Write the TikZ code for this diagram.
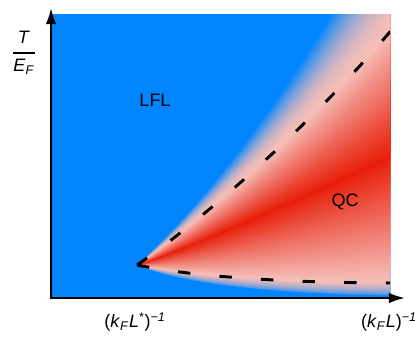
\documentclass[tikz,border=0pt]{standalone}
\usepackage{fontspec}
\setmainfont{Liberation Sans}
\usepackage{tikz}
\usetikzlibrary{arrows.meta,calc}
\definecolor{fanblue}{HTML}{0085FF}
\definecolor{fanpink}{HTML}{F5BEB8}
\definecolor{fanred}{HTML}{E81E0A}
\tikzset{lbl/.style={font=\fontsize{12.8}{15}\selectfont,inner sep=0pt},
  dashline/.style={line width=2.1pt,dash pattern=on 8.8pt off 20.8pt},
  axisline/.style={line width=1.6pt,{Latex[length=11.5pt,width=7.5pt]}-{Latex[length=11.5pt,width=7.5pt]}}}

\begin{document}
\begin{tikzpicture}[x=0.025cm,y=0.025cm]
\useasboundingbox (0,0) rectangle (415,337);
\coordinate (O) at (51,39);
\coordinate (Ytip) at (51,329);
\coordinate (Xtip) at (405,39);
\coordinate (A) at (137,72);
% key curves of the fan: a, b control points, e end point
\coordinate (K0a) at (190,50);  \coordinate (K0b) at (290,42);  \coordinate (K0e) at (400,41);
\coordinate (K1a) at (200,59);  \coordinate (K1b) at (300,54);  \coordinate (K1e) at (400,54);
\coordinate (K2a) at (200,92);  \coordinate (K2b) at (300,137); \coordinate (K2e) at (400,182);
\coordinate (K3a) at (180,101); \coordinate (K3b) at (300,197); \coordinate (K3e) at (400,317);
\coordinate (K4a) at (180,112); \coordinate (K4b) at (260,197); \coordinate (K4e) at (352,357);
\begin{scope}
\clip (51,39) rectangle (390,322);
\fill[fanblue] (51,39) rectangle (390,322);
\foreach \i/\j/\ca/\cb/\g in {0/1/fanblue/fanpink/0.5,1/2/fanpink/fanred/1,2/3/fanred/fanpink/1,3/4/fanpink/fanblue/2}{
\foreach \k in {0,...,30}{
\pgfmathsetmacro{\t}{\k/30}\pgfmathsetmacro{\p}{100*(\t)^\g}
\fill[\cb!\p!\ca] (A) .. controls ($(K\i a)!\t!(K\j a)$) and ($(K\i b)!\t!(K\j b)$) .. ($(K\i e)!\t!(K\j e)$)
  -- ++(150,0) |- (-100,500) |- (A) -- cycle;}}
\fill[fanblue] (51,60) rectangle (135,84);
\draw[dashline] (A) .. controls (K1a) and (K1b) .. (K1e);
\draw[dashline] (A) .. controls (K3a) and (K3b) .. (K3e);
\end{scope}
\draw[axisline] (Ytip) -- (O) -- (Xtip);
\node[lbl] (lfl) at (155,237) {LFL};
\node[lbl] (qc) at (345,135) {QC};
\node[lbl] (xstar) at (135,15) {(\textit{k}\textsubscript{\textit{F}}\textit{L}\textsuperscript{*})\textsuperscript{\textit{−1}}};
\node[lbl] (xlab) at (389,15) {(\textit{k}\textsubscript{\textit{F}}\textit{L})\textsuperscript{\textit{−1}}};
\node[lbl,align=center,anchor=north] (ylab) at (24,306) {\textit{T}\\[-8pt]\rule{15.6pt}{0.9pt}\\[-2pt]\textit{E}\textsubscript{\textit{F}}};
\end{tikzpicture}
\end{document}
